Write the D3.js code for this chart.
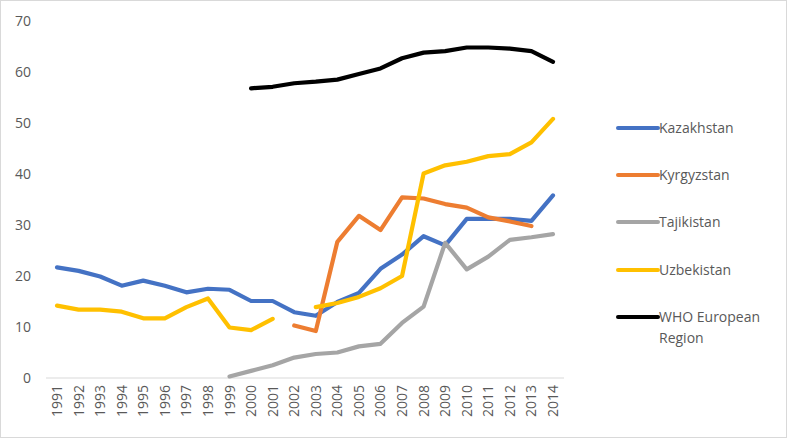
<!DOCTYPE html>
<html>
<head>
<meta charset="utf-8">
<script src="https://cdn.jsdelivr.net/npm/d3@7"></script>
<style>
  body { margin: 0; background: #fff; }
  svg { display: block; font-family: "Open Sans", sans-serif; }
</style>
</head>
<body>
<svg width="787" height="439"></svg>
<script>
var years = ["1991","1992","1993","1994","1995","1996","1997","1998","1999","2000","2001","2002",
  "2003","2004","2005","2006","2007","2008","2009","2010","2011","2012","2013","2014"];

var kazakhstan = [21.7, 21.0, 19.9, 18.1, 19.1, 18.1, 16.8, 17.5, 17.3, 15.1, 15.1, 12.9,
  12.2, 14.9, 16.7, 21.4, 24.2, 27.8, 26.0, 31.2, 31.2, 31.2, 30.8, 35.8];
var kyrgyzstan = [null, null, null, null, null, null, null, null, null, null, null, 10.3,
  9.2, 26.7, 31.8, 29.0, 35.4, 35.2, 34.1, 33.4, 31.5, 30.7, 29.8, null];
var tajikistan = [null, null, null, null, null, null, null, null, 0.3, 1.4, 2.5, 4.0,
  4.7, 5.0, 6.2, 6.7, 10.8, 14.0, 26.5, 21.3, 23.8, 27.1, 27.6, 28.2];
var uzbekistan = [14.2, 13.4, 13.4, 13.0, 11.7, 11.7, 13.9, 15.6, 9.9, 9.4, 11.6, null,
  13.9, 14.7, 15.9, 17.6, 20.0, 40.1, 41.7, 42.4, 43.5, 43.9, 46.2, 50.8];
var whoEurope = [null, null, null, null, null, null, null, null, null, 56.8, 57.1, 57.8,
  58.1, 58.5, 59.6, 60.7, 62.7, 63.8, 64.1, 64.8, 64.8, 64.6, 64.1, 62.0];

var seriesNames = ["Kazakhstan", "Kyrgyzstan", "Tajikistan", "Uzbekistan", "WHO European Region"];
var seriesValues = [kazakhstan, kyrgyzstan, tajikistan, uzbekistan, whoEurope];
var colors = ["#4472C4", "#ED7D31", "#A5A5A5", "#FFC000", "#000000"];
var yTicks = [0, 10, 20, 30, 40, 50, 60, 70];

var svg = d3.select("svg");
var width = 787, height = 439;

// outer border
svg.append("rect")
    .attr("x", 0.5).attr("y", 0.5)
    .attr("width", width - 1).attr("height", height - 2)
    .attr("fill", "#fff")
    .attr("stroke", "#d9d9d9");

var x = d3.scalePoint()
    .domain(years)
    .range([57, 553]);

var y = d3.scaleLinear()
    .domain([0, 70])
    .range([378, 21]);

// y tick labels
svg.append("g")
    .selectAll("text")
    .data(yTicks)
    .enter().append("text")
    .attr("x", 31)
    .attr("y", function (d) { return y(d); })
    .attr("dy", "0.35em")
    .attr("text-anchor", "end")
    .attr("fill", "#595959")
    .style("font-size", "14px")
    .text(function (d) { return d; });

// x axis line
svg.append("line")
    .attr("x1", 46).attr("x2", 564)
    .attr("y1", y(0)).attr("y2", y(0))
    .attr("stroke", "#d9d9d9")
    .attr("stroke-width", 1);

// x tick labels, rotated
svg.append("g")
    .selectAll("text")
    .data(years)
    .enter().append("text")
    .attr("transform", function (d) { return "translate(" + (x(d) + 5) + "," + 385 + ") rotate(-90)"; })
    .attr("text-anchor", "end")
    .attr("fill", "#595959")
    .style("font-size", "14px")
    .text(function (d) { return d; });

var line = d3.line()
    .defined(function (d) { return d.v != null; })
    .x(function (d) { return x(d.year); })
    .y(function (d) { return y(d.v); });

svg.append("g")
    .selectAll("path")
    .data(seriesValues)
    .enter().append("path")
    .attr("fill", "none")
    .attr("stroke", function (d, i) { return colors[i]; })
    .attr("stroke-width", 4.2)
    .attr("stroke-linejoin", "round")
    .attr("stroke-linecap", "round")
    .attr("d", function (vals) {
        return line(vals.map(function (v, i) { return { year: years[i], v: v }; }));
    });

// legend
var legendY = [128, 175, 222, 270, 317];
var legend = svg.append("g")
    .selectAll("g")
    .data(seriesNames)
    .enter().append("g")
    .attr("transform", function (d, i) { return "translate(618," + legendY[i] + ")"; });

legend.append("line")
    .attr("x1", 0).attr("x2", 40)
    .attr("stroke", function (d, i) { return colors[i]; })
    .attr("stroke-width", 4)
    .attr("stroke-linecap", "round");

legend.append("text")
    .attr("x", 41)
    .attr("dy", "0.35em")
    .attr("fill", "#595959")
    .style("font-size", "14px")
    .each(function (d) {
        var t = d3.select(this);
        if (d === "WHO European Region") {
            t.append("tspan").attr("x", 41).text("WHO European");
            t.append("tspan").attr("x", 41).attr("dy", "1.5em").text("Region");
        } else {
            t.text(d);
        }
    });
</script>
</body>
</html>
